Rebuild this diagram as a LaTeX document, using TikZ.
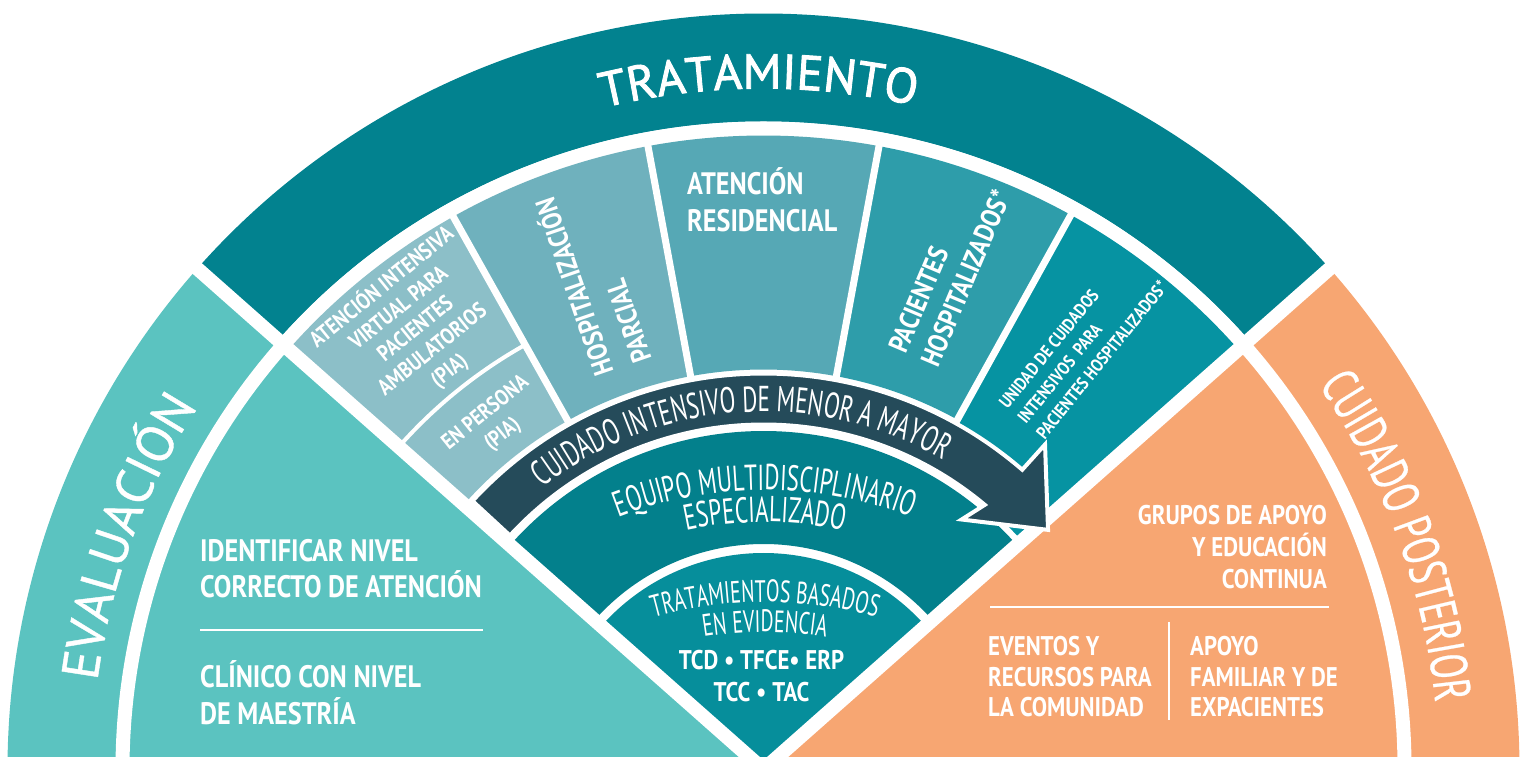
\documentclass[tikz,border=0pt]{standalone}
\usepackage{fontspec}
\setmainfont{PT Sans}
\newfontfamily\headfont{PT Sans}[FakeBold=0.8]
\newfontfamily\titlefont{PT Sans}[FakeBold=1.8]
\newfontfamily\curvefont{PT Sans}[FakeStretch=0.64]
\newfontfamily\postfont{PT Sans}[FakeStretch=0.70, FakeBold=0.5]
\newfontfamily\boxfont{PT Sans}[FakeStretch=0.845]
\usetikzlibrary{decorations.text}

\definecolor{evalteal}{RGB}{91,195,192}
\definecolor{postorange}{RGB}{247,166,114}
\definecolor{tratdark}{RGB}{2,130,143}
\definecolor{colA}{RGB}{140,191,200}
\definecolor{colB}{RGB}{111,177,189}
\definecolor{colC}{RGB}{86,168,181}
\definecolor{colD}{RGB}{46,157,170}
\definecolor{colE}{RGB}{6,147,162}
\definecolor{arrowdark}{RGB}{37,75,90}
\definecolor{equipoteal}{RGB}{3,128,140}
\definecolor{evidteal}{RGB}{6,142,155}

\tikzset{
  gapline/.style={white, line width=14pt},
  boxtext/.style={text=white, inner sep=0pt},
  curvelabel/.style={decorate, decoration={text along path, text align=center, text={#1}}}
}

\begin{document}
\begin{tikzpicture}[x=1pt, y=1pt]
	\useasboundingbox (-763.5,12.5) rectangle (762.5,769.5);
	\clip (-763.5,12.5) rectangle (762.5,769.5);

	% outer ring
	\fill[evalteal] (0,0) -- (138.5:756) arc[start angle=138.5, end angle=182, radius=756] -- cycle;
	\fill[tratdark] (0,0) -- (41.5:756) arc[start angle=41.5, end angle=138.5, radius=756] -- cycle;
	\fill[postorange] (0,0) -- (-2:756) arc[start angle=-2, end angle=41.5, radius=756] -- cycle;

	\fill[white] (0,0) -- (41.5:648) arc[start angle=41.5, end angle=138.5, radius=648] -- cycle;
	\draw[gapline] (-5:641) arc[start angle=-5, end angle=185, radius=641];

	% levels of care
	\foreach \a/\b/\col/\rin in {119.3/138.5/colA/400, 100.5/119.3/colB/400,
			79.5/100.5/colC/400, 61/79.5/colD/400, 41.5/61/colE/345}
		\fill[\col] (\a:\rin) arc[start angle=\a, end angle=\b, radius=\rin]
			-- (\b:634) arc[start angle=\b, end angle=\a, radius=634] -- cycle;
	\foreach \a in {119.3, 100.5, 79.5, 61}
		\draw[white, line width=7pt] (\a:396) -- (\a:640);
	\draw[white, line width=4pt] (119.3:487) arc[start angle=119.3, end angle=138.5, radius=487];

	% team and evidence
	\fill[equipoteal] (41.5:225.5) arc[start angle=41.5, end angle=138.5, radius=225.5]
		-- (138.5:338.5) arc[start angle=138.5, end angle=41.5, radius=338.5] -- cycle;
	\fill[evidteal] (0,0) -- (41.5:216.5) arc[start angle=41.5, end angle=138.5, radius=216.5] -- cycle;

	\draw[gapline] (0,0) -- (138.5:760);
	\draw[gapline] (0,0) -- (41.5:760);

	% arrow
	\filldraw[fill=arrowdark, draw=white, line width=4pt]
		(137.3:396) arc[start angle=137.3, end angle=49.2, radius=396]
		-- (49.1:430) -- (40.1:372) -- (51.6:319) -- (50.1:345)
		arc[start angle=50.1, end angle=137.3, radius=345] -- cycle;

	\draw[white, line width=2pt] (-563.5,139.5) -- (-280.5,139.5);
	\draw[white, line width=2pt] (226.5,162.5) -- (565.5,162.5);
	\draw[white, line width=2pt] (405.5,147.5) -- (405.5,49.5);

	% curved titles
	\path[curvelabel={|\titlefont\fontsize{49}{49}\selectfont\color{white}|TRATAMIENTO}]
		(120.4:681) arc[start angle=120.4, end angle=60.4, radius=681];
	\path[curvelabel={|\headfont\fontsize{52}{52}\selectfont\color{white}|EVALUACIÓN}]
		(189.9:672) arc[start angle=189.9, end angle=129.9, radius=672];
	\path[curvelabel={|\postfont\fontsize{52}{52}\selectfont\color{white}|CUIDADO POSTERIOR}]
		(50.2:675) arc[start angle=50.2, end angle=-9.8, radius=675];
	\path[curvelabel={|\curvefont\fontsize{36}{36}\selectfont\color{white}|CUIDADO INTENSIVO DE MENOR A MAYOR}]
		(150:358) arc[start angle=150, end angle=38, radius=358];
	\path[shift={(1.5,-128.5)}, curvelabel={|\curvefont\fontsize{36}{36}\selectfont\color{white}|EQUIPO MULTIDISCIPLINARIO}]
		(140:408) arc[start angle=140, end angle=40, radius=408];
	\path[shift={(1.5,-128.5)}, curvelabel={|\curvefont\fontsize{36}{36}\selectfont\color{white}|ESPECIALIZADO}]
		(130:376) arc[start angle=130, end angle=50, radius=376];
	\path[shift={(1.5,-250.5)}, curvelabel={|\curvefont\fontsize{31}{31}\selectfont\color{white}|TRATAMIENTOS BASADOS}]
		(130:418) arc[start angle=130, end angle=50, radius=418];
	\path[shift={(1.5,-250.5)}, curvelabel={|\curvefont\fontsize{31}{31}\selectfont\color{white}|EN EVIDENCIA}]
		(120:388) arc[start angle=120, end angle=60, radius=388];

	% block texts (anchored at the baseline of their last line)
	\node[boxtext, anchor=base west, align=left, font=\boxfont\bfseries\fontsize{31}{36}\selectfont]
		(identificar) at (-563.5,171.5) {IDENTIFICAR NIVEL\\CORRECTO DE ATENCIÓN};
	\node[boxtext, anchor=base west, align=left, font=\boxfont\bfseries\fontsize{31}{37}\selectfont]
		(clinico) at (-563.5,44.5) {CLÍNICO CON NIVEL\\DE MAESTRÍA};
	\node[boxtext, anchor=base east, align=right, font=\boxfont\bfseries\fontsize{27}{32}\selectfont]
		(grupos) at (563.5,180.5) {GRUPOS DE APOYO\\Y EDUCACIÓN\\CONTINUA};
	\node[boxtext, anchor=base west, align=left, font=\boxfont\bfseries\fontsize{27}{30.5}\selectfont]
		(eventos) at (224.5,52.5) {EVENTOS Y\\RECURSOS PARA\\LA COMUNIDAD};
	\node[boxtext, anchor=base west, align=left, font=\boxfont\bfseries\fontsize{27}{30.5}\selectfont]
		(apoyo) at (426.5,52.5) {APOYO\\FAMILIAR Y DE\\EXPACIENTES};
	\node[boxtext, anchor=base, align=center, font=\boxfont\bfseries\fontsize{27}{32}\selectfont]
		(terapias) at (-2,67.5) {TCD • TFCE• ERP\\TCC • TAC};
	\node[boxtext, anchor=base west, align=left, font=\boxfont\bfseries\fontsize{31}{37}\selectfont]
		(residencial) at (-76.5,537.5) {ATENCIÓN\\RESIDENCIAL};
	\node[boxtext, anchor=base west, align=left, rotate=109, font=\boxfont\bfseries\fontsize{28}{40}\selectfont]
		(parcial) at (105.2:426) {HOSPITALIZACIÓN\\PARCIAL};
	\node[boxtext, anchor=base west, align=left, rotate=67, font=\boxfont\bfseries\fontsize{28}{35}\selectfont]
		(pacientes) at (66.5:437) {PACIENTES\\HOSPITALIZADOS*};
	\node[boxtext, anchor=base west, align=left, rotate=51, font=\boxfont\bfseries\fontsize{18}{24}\selectfont]
		(uci) at (49.5:433) {UNIDAD DE CUIDADOS\\INTENSIVOS\ \ PARA\\PACIENTES HOSPITALIZADOS*};
	\node[boxtext, anchor=center, align=center, rotate=39, font=\boxfont\bfseries\fontsize{22.5}{26.8}\selectfont]
		(virtual) at (128.3:562) {ATENCIÓN INTENSIVA\\VIRTUAL PARA\\PACIENTES\\AMBULATORIOS\\(PIA)};
	\node[boxtext, anchor=center, align=center, rotate=39, font=\boxfont\bfseries\fontsize{22}{27}\selectfont]
		(persona) at (127.9:438) {EN PERSONA\\(PIA)};
\end{tikzpicture}
\end{document}
